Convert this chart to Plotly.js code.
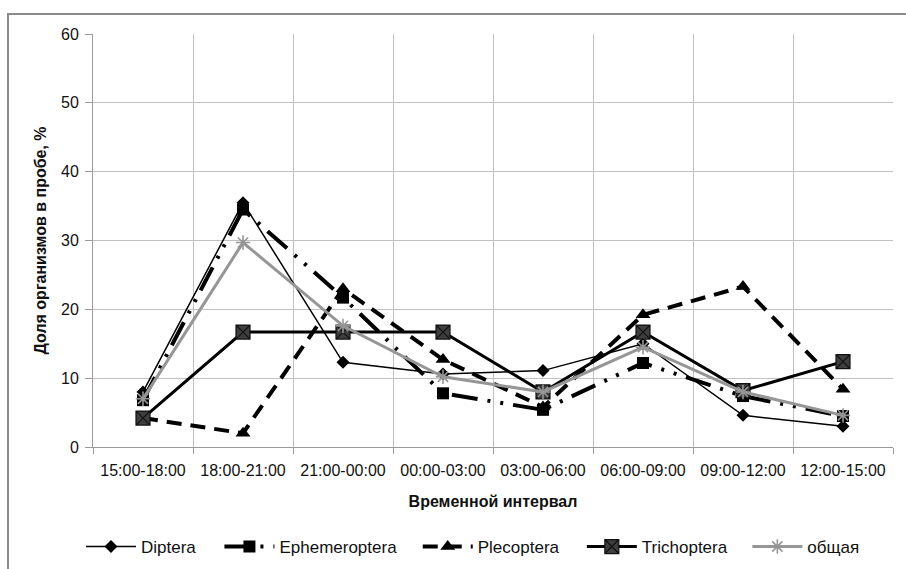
<!DOCTYPE html>
<html>
<head>
<meta charset="utf-8">
<script src="https://cdn.plot.ly/plotly-3.0.1.min.js"></script>
<style>
  html, body { margin: 0; padding: 0; background: #fff; }
  #wrap { position: relative; width: 906px; height: 569px; overflow: hidden; }
  #chart { position: absolute; left: 0; top: 0; width: 906px; height: 569px; }
  #frame { position: absolute; left: 7px; top: 13px; width: 960px; height: 620px;
           border-left: 2px solid #8a8a8a; border-top: 2px solid #8a8a8a; pointer-events: none; }
</style>
</head>
<body>
<div id="wrap">
  <div id="chart"></div>
  <div id="frame"></div>
</div>
<script>
// ---- data ----
const categories = ['15:00-18:00', '18:00-21:00', '21:00-00:00', '00:00-03:00',
                    '03:00-06:00', '06:00-09:00', '09:00-12:00', '12:00-15:00'];
const seriesNames = ['Diptera', 'Ephemeroptera', 'Plecoptera', 'Trichoptera', 'общая'];
const diptera       = [8.0, 35.5, 12.3, 10.6, 11.1, 15.0, 4.6, 3.0];
const ephemeroptera = [6.8, 34.5, 21.7, 7.8, 5.4, 12.2, 7.4, 4.5];
const plecoptera    = [4.2, 2.0, 23.0, 12.7, 5.8, 19.2, 23.3, 8.4];
const trichoptera   = [4.2, 16.7, 16.7, 16.7, 8.0, 16.7, 8.2, 12.4];
const obshaya       = [7.0, 29.7, 17.6, 10.2, 8.0, 14.5, 8.0, 4.6];
const yTicks = [0, 10, 20, 30, 40, 50, 60];

const FONT = 'Liberation Sans, Arial, sans-serif';

const traces = [
  {
    name: seriesNames[0], x: categories, y: diptera, type: 'scatter', mode: 'lines+markers',
    line: {color: '#000', width: 1.5},
    marker: {symbol: 'diamond', size: 10, color: '#000'},
    legend: 'legend'
  },
  {
    name: seriesNames[1], x: categories, y: ephemeroptera, type: 'scatter', mode: 'lines+markers',
    line: {color: '#000', width: 4, dash: '26px,10px,3px,10px,3px,10px'},
    marker: {symbol: 'square', size: 12, color: '#000'},
    legend: 'legend2'
  },
  {
    name: seriesNames[2], x: categories, y: plecoptera, type: 'scatter', mode: 'lines+markers',
    line: {color: '#000', width: 4, dash: '15px,9px'},
    marker: {symbol: 'triangle-up', size: 13, color: '#000'},
    legend: 'legend3'
  },
  {
    name: seriesNames[3], x: categories, y: trichoptera, type: 'scatter', mode: 'lines+markers',
    line: {color: '#000', width: 3},
    marker: {symbol: 'square-x', size: 14, color: '#3e3e3e', line: {color: '#111', width: 1.2}},
    legend: 'legend4'
  },
  {
    name: seriesNames[4], x: categories, y: obshaya, type: 'scatter', mode: 'lines+markers',
    line: {color: '#969696', width: 3},
    marker: {symbol: 'asterisk-open', size: 12, color: '#969696', line: {color: '#969696', width: 1.6}},
    legend: 'legend5'
  }
];

function leg(xc) {
  return {
    xref: 'container', yref: 'container',
    x: xc, xanchor: 'left', y: 0.0387, yanchor: 'middle', orientation: 'h',
    font: {family: FONT, size: 17, color: '#111'}, bgcolor: 'rgba(0,0,0,0)',
    itemwidth: 50, borderwidth: 0
  };
}

const layout = {
  width: 906, height: 569,
  margin: {l: 93, r: 13, t: 34, b: 122, pad: 0},
  paper_bgcolor: '#fff', plot_bgcolor: '#fff',
  font: {family: FONT, size: 16, color: '#111'},
  showlegend: true,
  xaxis: {
    type: 'category', range: [-0.5, 7.5], tickson: 'boundaries',
    showgrid: true, gridcolor: '#c0c0c0', gridwidth: 1,
    showline: true, linecolor: '#9a9a9a', linewidth: 1,
    ticks: 'outside', ticklen: 6, tickcolor: '#9a9a9a',
    ticklabelstandoff: 9,
    tickfont: {family: FONT, size: 16, color: '#111'},
    title: {text: '<b>Временной интервал</b>', font: {family: FONT, size: 16, color: '#111'}, standoff: 17},
    automargin: false, zeroline: false
  },
  yaxis: {
    range: [0, 60], tickvals: yTicks, ticktext: yTicks.map(String),
    showgrid: true, gridcolor: '#c0c0c0', gridwidth: 1,
    showline: true, linecolor: '#9a9a9a', linewidth: 1,
    ticks: 'outside', ticklen: 7, tickcolor: '#9a9a9a',
    ticklabelstandoff: 3,
    tickfont: {family: FONT, size: 16, color: '#111'},
    title: {text: '<b>Доля организмов в пробе, %</b>', font: {family: FONT, size: 16, color: '#111'}, standoff: 10},
    automargin: false, zeroline: false
  },
  legend: leg(0.0894),
  legend2: leg(0.2422),
  legend3: leg(0.4611),
  legend4: leg(0.6422),
  legend5: leg(0.8249)
};

Plotly.newPlot('chart', traces, layout, {displayModeBar: false, staticPlot: true});
</script>
</body>
</html>
